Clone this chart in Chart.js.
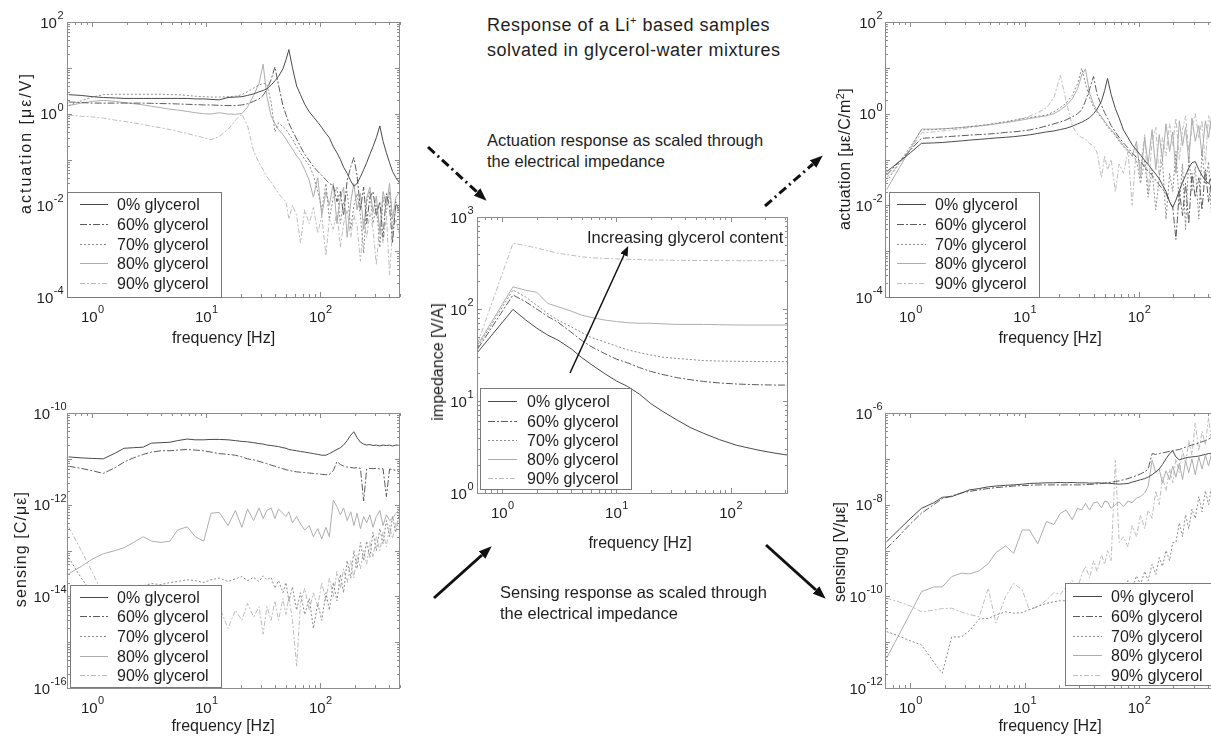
<!DOCTYPE html>
<html>
<head>
<meta charset="utf-8">
<script src="https://cdn.jsdelivr.net/npm/chart.js@4.4.1/dist/chart.umd.min.js"></script>
<style>
  body { margin:0; width:1211px; height:746px; overflow:hidden; background:#fff; position:relative;
         font-family:"Liberation Sans", Arial, sans-serif; color:#1e1e1e; }
  .panel { position:absolute; }
  .txt { position:absolute; white-space:nowrap; font-size:16.5px; line-height:21px; }
  .ytitle { position:absolute; white-space:nowrap; font-size:16px; line-height:16px;
            transform:translate(-50%,-50%) rotate(-90deg); }
  .xtitle { position:absolute; white-space:nowrap; font-size:16px; line-height:16px; width:200px; text-align:center; }
  .sup { font-size:11px; vertical-align:7px; line-height:0; }
</style>
</head>
<body>
<div class="panel" style="left:0px;top:0px"><canvas id="cActRaw" width="410" height="350"></canvas></div>
<div class="panel" style="left:0px;top:390px"><canvas id="cSensRaw" width="410" height="356"></canvas></div>
<div class="panel" style="left:410px;top:180px"><canvas id="cImp" width="390" height="380"></canvas></div>
<div class="panel" style="left:800px;top:0px"><canvas id="cActScaled" width="420" height="350"></canvas></div>
<div class="panel" style="left:800px;top:390px"><canvas id="cSensScaled" width="420" height="356"></canvas></div>

<!-- axis titles -->
<div class="ytitle" style="left:26px;top:142.5px;letter-spacing:2px">actuation [με/V]</div>
<div class="ytitle" style="left:20.5px;top:548.5px;letter-spacing:1.1px">sensing [C/με]</div>
<div class="ytitle" style="left:437.8px;top:361.5px">impedance [V/A]</div>
<div class="ytitle" style="left:844.5px;top:159px;letter-spacing:0.4px">actuation [με/C/m<span class="sup" style="vertical-align:6px">2</span>]</div>
<div class="ytitle" style="left:839.5px;top:551.5px">sensing [V/με]</div>
<div class="xtitle" style="left:123.5px;top:330px">frequency [Hz]</div>
<div class="xtitle" style="left:123px;top:718px">frequency [Hz]</div>
<div class="xtitle" style="left:540px;top:534.5px">frequency [Hz]</div>
<div class="xtitle" style="left:950px;top:330px">frequency [Hz]</div>
<div class="xtitle" style="left:950px;top:718px">frequency [Hz]</div>

<!-- annotations -->
<div class="txt" style="left:487px;top:13px;font-size:18px;line-height:25px;letter-spacing:0.5px">Response of a Li<span class="sup">+</span> based samples<br>solvated in glycerol-water mixtures</div>
<div class="txt" style="left:487px;top:129.5px">Actuation response as scaled through<br>the electrical impedance</div>
<div class="txt" style="left:500px;top:582px">Sensing response as scaled through<br>the electrical impedance</div>
<div class="txt" style="left:587px;top:227px">Increasing glycerol content</div>

<svg width="1211" height="746" style="position:absolute;left:0;top:0;pointer-events:none">
  <defs>
    <marker id="big" markerUnits="userSpaceOnUse" markerWidth="13" markerHeight="10" refX="0" refY="5" orient="auto">
      <path d="M0,0 L13,5 L0,10 z" fill="#111"/>
    </marker>
    <marker id="small" markerUnits="userSpaceOnUse" markerWidth="10" markerHeight="8" refX="0" refY="4" orient="auto">
      <path d="M0,0 L10,4 L0,8 z" fill="#111"/>
    </marker>
  </defs>
  <line x1="428" y1="147" x2="477" y2="192" stroke="#111" stroke-width="3" stroke-dasharray="9 4 2 4" marker-end="url(#big)"/>
  <line x1="765" y1="206" x2="813" y2="164" stroke="#111" stroke-width="3" stroke-dasharray="9 4 2 4" marker-end="url(#big)"/>
  <line x1="434" y1="598" x2="482" y2="555" stroke="#111" stroke-width="3" marker-end="url(#big)"/>
  <line x1="766" y1="545" x2="816" y2="590" stroke="#111" stroke-width="3" marker-end="url(#big)"/>
  <line x1="570" y1="373" x2="624" y2="255" stroke="#111" stroke-width="1.5" marker-end="url(#small)"/>
</svg>

<script>
// frequency grid (Hz) shared by the actuation / sensing panels
const freq = [0.62, 0.8, 1, 1.25, 1.6, 1.9, 2.3, 2.8, 3.3, 4, 4.8, 5.6, 6.8,
  8, 9.5, 11, 13, 15.5, 18, 20.5, 23, 26, 29, 31.5, 34,
  37, 40, 43, 47, 50, 53, 57,
  62, 67, 73, 80, 87, 95, 103, 112, 120, 130,
  140, 150, 160, 172, 185, 197, 210, 225, 240, 255,
  272, 290, 310, 333, 355, 380, 405, 430, 460, 500];

const seriesNames = ['0% glycerol', '60% glycerol', '70% glycerol', '80% glycerol', '90% glycerol'];

// actuation [ue/V], top left
const actRaw0 = [2.6, 2.5, 2.35, 2.25, 2.2, 2.15, 2.15, 2.15, 2.15, 2.15, 2.15, 2.15, 2.15,
  2.1, 2.1, 2.05, 2.0, 2.25, 2.3, 2.35, 2.5, 2.7, 3.0, 3.2, 3.5,
  4.2, 5.2, 6.5, 9.5, 15, 25, 10,
  4.0, 2.6, 1.6, 1.1, 0.85, 0.65, 0.5, 0.37, 0.3, 0.19,
  0.14, 0.1, 0.068, 0.05, 0.034, 0.026, 0.03, 0.042, 0.06, 0.085,
  0.13, 0.19, 0.3, 0.54, 0.25, 0.14, 0.085, 0.055, 0.04, 0.03];
const actRaw60 = [1.8, 1.75, 1.7, 1.7, 1.7, 1.7, 1.7, 1.7, 1.68, 1.66, 1.65, 1.63, 1.6,
  1.58, 1.55, 1.55, 1.52, 1.5, 1.5, 1.55, 1.65, 1.85, 2.1, 2.5, 3.4,
  5.5, 10.5, 4.2, 1.5, 0.95, 0.62, 0.42,
  0.28, 0.19, 0.13, 0.095, 0.07, 0.055, 0.045, 0.036, 0.03, 0.027,
  0.012, 0.02, 0.006, 0.035, 0.07, 0.11, 0.045, 0.008, 0.025, 0.004,
  0.015, 0.02, 0.006, 0.012, 0.002, 0.018, 0.009, 0.0015, 0.012, 0.006];
const actRaw70 = [1.5, 1.9, 2.3, 2.6, 2.65, 2.65, 2.65, 2.65, 2.65, 2.65, 2.6, 2.6, 2.5,
  2.4, 2.35, 2.3, 2.3, 2.35, 2.4, 2.6, 3.0, 3.6, 4.2, 4.6, 4.4,
  1.8, 0.4, 0.63, 0.52, 0.45, 0.36, 0.28,
  0.19, 0.14, 0.1, 0.075, 0.045, 0.02, 0.008, 0.03, 0.005, 0.015,
  0.025, 0.004, 0.012, 0.02, 0.003, 0.01, 0.018, 0.006, 0.0009, 0.012,
  0.02, 0.004, 0.01, 0.0012, 0.015, 0.007, 0.02, 0.003, 0.009, 0.012];
const actRaw80 = [1.5, 1.7, 1.85, 1.95, 1.85, 1.75, 1.65, 1.55, 1.45, 1.35, 1.25, 1.2, 1.12,
  1.05, 1.0, 0.98, 1.05, 0.98, 0.97, 1.0, 1.4, 2.5, 4.5, 12, 2.4,
  0.9, 0.6, 0.45, 0.35, 0.28, 0.22, 0.17,
  0.12, 0.095, 0.06, 0.035, 0.015, 0.04, 0.006, 0.02, 0.01, 0.03,
  0.004, 0.015, 0.025, 0.002, 0.012, 0.03, 0.008, 0.018, 0.003, 0.014,
  0.025, 0.007, 0.016, 0.0025, 0.02, 0.01, 0.03, 0.005, 0.015, 0.02];
const actRaw90 = [0.93, 0.88, 0.85, 0.8, 0.72, 0.68, 0.63, 0.58, 0.53, 0.49, 0.45, 0.41, 0.37,
  0.33, 0.3, 0.27, 0.32, 0.45, 0.72, 0.98, 0.55, 0.15, 0.085, 0.06, 0.042,
  0.032, 0.024, 0.018, 0.014, 0.012, 0.005, 0.01,
  0.006, 0.0015, 0.008, 0.004, 0.009, 0.0025, 0.006, 0.0008, 0.005, 0.003,
  0.007, 0.0012, 0.004, 0.008, 0.002, 0.006, 0.0035, 0.0006, 0.005, 0.002,
  0.007, 0.003, 0.0005, 0.004, 0.0015, 0.006, 0.0003, 0.003, 0.005, 0.002];

// sensing [C/ue], bottom left
const sensRaw0 = [1.1e-11, 1.05e-11, 1.02e-11, 1.0e-11, 1.35e-11, 1.7e-11, 1.75e-11, 1.8e-11, 2.2e-11, 2.25e-11, 2.3e-11, 2.5e-11, 2.7e-11,
  2.6e-11, 2.6e-11, 2.65e-11, 2.65e-11, 2.6e-11, 2.5e-11, 2.4e-11, 2.35e-11, 2.25e-11, 2.15e-11, 2.1e-11, 2.0e-11,
  1.95e-11, 1.9e-11, 1.85e-11, 1.75e-11, 1.7e-11, 1.6e-11, 1.55e-11,
  1.5e-11, 1.45e-11, 1.4e-11, 1.35e-11, 1.3e-11, 1.25e-11, 1.2e-11, 1.2e-11, 1.3e-11, 1.45e-11,
  1.6e-11, 1.75e-11, 2.0e-11, 2.5e-11, 3.3e-11, 3.9e-11, 2.9e-11, 2.3e-11, 2.1e-11, 2.0e-11,
  2.05e-11, 1.95e-11, 2.0e-11, 1.9e-11, 2.0e-11, 1.95e-11, 2.0e-11, 1.9e-11, 2.0e-11, 1.95e-11];
const sensRaw60 = [6.9e-12, 6.2e-12, 5.5e-12, 4.8e-12, 6.5e-12, 8.5e-12, 1.05e-11, 1.25e-11, 1.4e-11, 1.5e-11, 1.5e-11, 1.55e-11, 1.6e-11,
  1.55e-11, 1.5e-11, 1.4e-11, 1.3e-11, 1.25e-11, 1.2e-11, 1.1e-11, 1.0e-11, 9.5e-12, 8.8e-12, 8.3e-12, 7.8e-12,
  7.3e-12, 6.9e-12, 6.5e-12, 6.1e-12, 5.8e-12, 5.6e-12, 5.4e-12,
  5.2e-12, 5.1e-12, 5.0e-12, 4.9e-12, 4.8e-12, 4.7e-12, 4.6e-12, 4.5e-12, 4.6e-12, 5.5e-12,
  8.7e-12, 7.5e-12, 7.0e-12, 6.6e-12, 6.5e-12, 6.3e-12, 6.4e-12, 6.2e-12, 1.2e-12, 6.0e-12,
  6.2e-12, 6.1e-12, 6.2e-12, 6.0e-12, 6.1e-12, 1.5e-12, 6.0e-12, 5.8e-12, 5.6e-12, 5.2e-12];
const sensRaw70 = [7e-14, 2.5e-14, 1.2e-14, 1e-14, 1.2e-14, 1.4e-14, 1.6e-14, 1.7e-14, 1.9e-14, 1.8e-14, 2.0e-14, 2.1e-14, 2.3e-14,
  2.2e-14, 2.0e-14, 2.3e-14, 2.5e-14, 2.1e-14, 2.4e-14, 2.7e-14, 2.2e-14, 2.6e-14, 2.1e-14, 2.8e-14, 2.3e-14,
  2.6e-14, 1.5e-14, 2.2e-14, 1.2e-14, 2.0e-14, 8e-15, 1.6e-14,
  5e-15, 1.2e-14, 4e-15, 9e-15, 2e-15, 7e-15, 3e-15, 1.2e-14, 5e-15, 2e-14,
  8e-15, 3e-14, 1.2e-14, 6e-14, 2.5e-14, 1e-13, 4e-14, 1.5e-13, 6e-14, 1.6e-13,
  7e-14, 2.5e-13, 1e-13, 3e-13, 1.4e-13, 4.5e-13, 2e-13, 5.5e-13, 2.5e-13, 8e-13];
const sensRaw80 = [3.1e-14, 4.5e-14, 6.5e-14, 8.5e-14, 1.0e-13, 1.15e-13, 1.5e-13, 2.0e-13, 1.6e-13, 1.5e-13, 1.6e-13, 2.8e-13, 3.3e-13,
  2.0e-13, 1.6e-13, 6.5e-13, 6.8e-13, 3.5e-13, 7.5e-13, 3.2e-13, 8.0e-13, 4.5e-13, 8.5e-13, 5.0e-13, 7.5e-13,
  8.5e-13, 5.0e-13, 8.0e-13, 6.5e-13, 5.5e-13, 7.0e-13, 4.0e-13,
  5.5e-13, 3.8e-13, 2.8e-13, 3.5e-13, 2.0e-13, 3.0e-13, 1.8e-13, 3.2e-13, 2.0e-13, 1.25e-12,
  9.0e-13, 6.0e-13, 8.5e-13, 4.5e-13, 7.0e-13, 3.5e-13, 6.5e-13, 3.0e-13, 5.5e-13, 4.0e-13,
  6.0e-13, 3.2e-13, 5.5e-13, 7.5e-13, 3.5e-13, 6.0e-13, 4.5e-13, 5.0e-13, 6.5e-13, 8.0e-13];
const sensRaw90 = [3.3e-13, 1e-13, 3.4e-14, 1e-14, 6e-15, 4e-15, 5e-15, 3e-15, 5e-15, 3e-15, 5e-15, 3e-15, 6e-15,
  3e-15, 7e-15, 4e-15, 6e-15, 2e-15, 5e-15, 3e-15, 7e-15, 3.5e-15, 6e-15, 1.5e-15, 6e-15,
  3e-15, 8e-15, 3e-15, 9e-15, 4e-15, 1e-14, 3e-15,
  3e-16, 7e-15, 1.5e-14, 5e-15, 1.2e-14, 6e-15, 2e-14, 8e-15, 2.5e-14, 1e-14,
  3.5e-14, 1.5e-14, 4e-14, 2e-14, 6e-14, 2.5e-14, 8e-14, 4e-14, 1e-13, 5e-14,
  1.5e-13, 7e-14, 2e-13, 1e-13, 2.5e-13, 1.2e-13, 3.5e-13, 1.8e-13, 4e-13, 3e-13];

// impedance [V/A], centre
const impFreq = [0.61, 1.24, 1.6, 2.0, 2.5, 3.06, 4.0, 4.9, 6.0, 7.8, 10, 12.5, 16, 19.9, 25, 34, 45, 58, 80, 113, 150, 181, 250, 318];
const imp0 = [34, 99, 76, 62, 52, 46, 37, 30, 25, 20, 16.5, 14.4, 11.8, 9.4, 7.8, 6.2, 5.1, 4.45, 3.8, 3.3, 3.05, 2.9, 2.7, 2.58];
const imp60 = [37, 142, 120, 100, 83, 72, 56, 46, 39, 33, 28.5, 26, 23, 21, 19.5, 17.9, 17, 16.3, 15.7, 15.3, 15.1, 15, 14.9, 14.9];
const imp70 = [39, 161, 135, 110, 89, 76, 64, 56, 49, 44, 39.5, 36, 33.5, 31.6, 30, 29, 28.2, 27.5, 27.2, 27, 26.9, 26.8, 26.8, 26.8];
const imp80 = [41, 174, 160, 152, 115, 106, 95, 86, 81, 76, 73, 71, 70, 70, 69, 68, 68, 68, 67.5, 67, 67, 67, 67, 67];
const imp90 = [43, 517, 490, 460, 430, 403, 385, 370, 360, 355, 350, 347, 344, 341, 340, 338, 337, 336, 336, 335, 335, 335, 335, 335];

// actuation scaled by impedance [ue/C/m2], top right
const actScaled0 = [0.054, 0.09, 0.14, 0.225, 0.23, 0.235, 0.245, 0.255, 0.265, 0.275, 0.285, 0.295, 0.305,
  0.315, 0.33, 0.345, 0.37, 0.4, 0.42, 0.45, 0.48, 0.53, 0.6, 0.65, 0.72,
  0.82, 1.0, 1.25, 1.9, 3.2, 5.9, 2.6,
  1.3, 0.8, 0.44, 0.3, 0.21, 0.16, 0.125, 0.095, 0.078, 0.06,
  0.048, 0.038, 0.028, 0.02, 0.012, 0.009, 0.013, 0.021, 0.032, 0.045,
  0.065, 0.085, 0.09, 0.06, 0.045, 0.035, 0.03, 0.04, 0.03, 0.035];
const actScaled60 = [0.046, 0.09, 0.16, 0.29, 0.3, 0.31, 0.32, 0.33, 0.34, 0.35, 0.36, 0.37, 0.39,
  0.4, 0.42, 0.44, 0.48, 0.54, 0.6, 0.66, 0.73, 0.85, 1.0, 1.2, 1.9,
  3.5, 6.5, 2.6, 1.5, 1.05, 0.8, 0.55,
  0.4, 0.3, 0.23, 0.18, 0.14, 0.11, 0.09, 0.07, 0.055, 0.045,
  0.035, 0.028, 0.023, 0.018, 0.012, 0.009, 0.0018, 0.02, 0.006, 0.03,
  0.004, 0.05, 0.015, 0.04, 0.008, 0.06, 0.012, 0.035, 0.02, 0.05];
const actScaled70 = [0.033, 0.085, 0.19, 0.44, 0.45, 0.46, 0.48, 0.5, 0.52, 0.55, 0.58, 0.62, 0.67,
  0.72, 0.78, 0.82, 0.88, 0.93, 1.1, 1.35, 1.7, 2.5, 4.5, 9.8, 4.5,
  2.2, 1.4, 1.05, 0.8, 0.65, 0.52, 0.42,
  0.33, 0.25, 0.19, 0.15, 0.12, 0.098, 0.03, 0.1, 0.015, 0.06,
  0.008, 0.04, 0.1, 0.005, 0.05, 0.02, 0.15, 0.01, 0.08, 0.003,
  0.12, 0.02, 0.07, 0.005, 0.15, 0.03, 0.09, 0.006, 0.12, 0.04];
const actScaled80 = [0.022, 0.066, 0.17, 0.46, 0.46, 0.47, 0.48, 0.5, 0.52, 0.54, 0.57, 0.6, 0.64,
  0.68, 0.73, 0.78, 0.84, 0.9, 1.0, 1.2, 1.5, 2.1, 3.5, 7.0, 9.5,
  2.8, 1.6, 1.15, 0.85, 0.68, 0.55, 0.45,
  0.35, 0.27, 0.2, 0.16, 0.12, 0.25, 0.04, 0.3, 0.08, 0.45,
  0.06, 0.35, 0.1, 0.6, 0.15, 0.4, 0.05, 0.7, 0.2, 0.5,
  0.09, 0.8, 0.25, 0.55, 0.12, 0.7, 0.3, 0.9, 0.2, 0.6];
const actScaled90 = [0.04, 0.08, 0.16, 0.38, 0.4, 0.42, 0.44, 0.47, 0.5, 0.53, 0.57, 0.6, 0.65,
  0.7, 0.78, 0.88, 1.05, 1.35, 2.2, 6.9, 1.9, 0.55, 0.35, 0.3, 0.28,
  0.22, 0.2, 0.14, 0.04, 0.12, 0.06, 0.1,
  0.02, 0.08, 0.05, 0.15, 0.01, 0.2, 0.06, 0.35, 0.02, 0.25,
  0.5, 0.04, 0.3, 0.12, 0.6, 0.2, 0.8, 0.1, 0.45, 0.9,
  0.15, 0.5, 1.0, 0.3, 0.7, 0.08, 0.9, 0.4, 1.1, 0.5];

// sensing scaled by impedance [V/ue], bottom right
const sensScaled0 = [1.55e-9, 2.9e-9, 5e-9, 8.3e-9, 1.1e-8, 1.45e-8, 1.5e-8, 1.8e-8, 2.1e-8, 2.25e-8, 2.45e-8, 2.55e-8, 2.65e-8,
  2.7e-8, 2.8e-8, 2.9e-8, 2.95e-8, 3.0e-8, 3.0e-8, 3.05e-8, 3.0e-8, 3.05e-8, 3.0e-8, 3.0e-8, 3.0e-8,
  2.95e-8, 2.95e-8, 3.0e-8, 2.95e-8, 2.95e-8, 2.95e-8, 2.9e-8,
  2.85e-8, 2.8e-8, 2.85e-8, 2.9e-8, 3.1e-8, 3.3e-8, 3.5e-8, 3.7e-8, 4.0e-8, 4.5e-8,
  5.2e-8, 6.0e-8, 7.5e-8, 1.0e-7, 1.3e-7, 1.5e-7, 1.1e-7, 9.5e-8, 1.0e-7, 1.05e-7,
  1.08e-7, 1.1e-7, 1.12e-7, 1.15e-7, 1.2e-7, 1.25e-7, 1.3e-7, 1.33e-7, 1.36e-7, 1.4e-7];
const sensScaled60 = [1.1e-9, 2.1e-9, 3.8e-9, 6.5e-9, 1.0e-8, 1.35e-8, 1.55e-8, 1.8e-8, 1.95e-8, 2.1e-8, 2.25e-8, 2.35e-8, 2.45e-8,
  2.55e-8, 2.6e-8, 2.65e-8, 2.7e-8, 2.7e-8, 2.7e-8, 2.7e-8, 2.7e-8, 2.7e-8, 2.7e-8, 2.7e-8, 2.75e-8,
  2.75e-8, 2.8e-8, 2.85e-8, 2.9e-8, 2.95e-8, 3.0e-8, 3.1e-8,
  3.2e-8, 3.3e-8, 3.5e-8, 3.7e-8, 4.0e-8, 4.3e-8, 4.7e-8, 5.2e-8, 6.0e-8, 1.3e-7,
  1.25e-7, 1.3e-7, 1.35e-7, 1.4e-7, 1.45e-7, 1.5e-7, 1.55e-7, 1.6e-7, 1.7e-7, 1.8e-7,
  1.9e-7, 2.0e-7, 2.1e-7, 2.2e-7, 2.35e-7, 2.5e-7, 2.7e-7, 2.9e-7, 3.2e-7, 3.5e-7];
const sensScaled70 = [1.7e-11, 1.35e-11, 1.07e-11, 8.7e-12, 3.7e-12, 2.1e-12, 1.3e-11, 1.3e-11, 1.8e-11, 3.2e-11, 3.3e-11, 3.9e-11, 4.6e-11,
  4.3e-11, 4.4e-11, 5.2e-11, 6e-11, 7e-11, 7.6e-11, 8e-11, 8e-11, 9e-11, 7e-11, 1e-10, 8e-11,
  1.1e-10, 9e-11, 1.2e-10, 1e-10, 1.3e-10, 8e-11, 1.5e-10,
  1e-10, 1.8e-10, 1.2e-10, 2.2e-10, 1.5e-10, 2.8e-10, 1.8e-10, 3.5e-10, 2.2e-10, 5e-10,
  3e-10, 7e-10, 4.5e-10, 1e-9, 6e-10, 1.5e-9, 1.5e-9, 4e-9, 2e-9, 6e-9,
  3e-9, 8e-9, 5e-9, 1.5e-8, 7e-9, 2e-8, 1e-8, 2.5e-8, 1.5e-8, 3e-8];
const sensScaled80 = [4.5e-12, 1.5e-11, 4.3e-11, 1.26e-10, 1.6e-10, 1.6e-10, 2.7e-10, 3.2e-10, 3.1e-10, 3.6e-10, 5.2e-10, 9e-10, 1.26e-9,
  8.7e-10, 2.8e-9, 2.8e-9, 1.4e-9, 4.3e-9, 3.7e-9, 6.5e-9, 7.6e-9, 4.7e-9, 8.3e-9, 7.6e-9, 1.07e-8,
  7.6e-9, 1.1e-8, 1.15e-8, 8.5e-9, 1.2e-8, 1.15e-8, 8.3e-9,
  1e-8, 1.15e-8, 9e-9, 1.2e-8, 1.1e-8, 1.4e-8, 1.5e-8, 1.8e-8, 2.5e-8, 9.3e-8,
  5e-8, 6e-8, 3e-8, 5.5e-8, 3.5e-8, 7e-8, 4e-8, 8e-8, 3.5e-8, 9e-8,
  5e-8, 1e-7, 4.5e-8, 1.1e-7, 6e-8, 1.2e-7, 7e-8, 1.3e-7, 8e-8, 1.4e-7];
const sensScaled90 = [9.1e-11, 7.5e-11, 6.2e-11, 4.6e-11, 5e-11, 5.4e-11, 5.5e-11, 4.5e-11, 4e-11, 3.6e-11, 1.5e-10, 2.6e-11, 1e-10,
  1.9e-10, 1.4e-10, 5e-11, 6e-11, 8.3e-11, 1.2e-10, 1.1e-10, 1.6e-10, 2.2e-10, 1.5e-10, 3e-10, 4.5e-10,
  2.5e-10, 6e-10, 3.5e-10, 8e-10, 5e-10, 1e-9, 6e-10,
  9.3e-8, 1.5e-9, 2e-9, 1.2e-9, 3.5e-9, 2e-9, 6e-9, 3e-9, 7.6e-9, 5e-9,
  2e-8, 1e-8, 4e-8, 2e-8, 6e-8, 3e-8, 1e-7, 5e-8, 1.5e-7, 8e-8,
  2.5e-7, 1.2e-7, 6e-7, 1.5e-7, 4e-7, 2e-7, 8e-7, 2.5e-7, 4e-7, 3e-7];

// tick values and their power-of-ten exponents (labels read "10" + exponent)
const freqTicks = [1, 10, 100];
const freqTickExp = ['0', '1', '2'];
const actTicks = [1e-4, 1e-2, 1, 1e2];
const actTickExp = ['-4', '-2', '0', '2'];
const sensRawTicks = [1e-16, 1e-14, 1e-12, 1e-10];
const sensRawTickExp = ['-16', '-14', '-12', '-10'];
const impTicks = [1, 10, 100, 1000];
const impTickExp = ['0', '1', '2', '3'];
const sensScaledTicks = [1e-12, 1e-10, 1e-8, 1e-6];
const sensScaledTickExp = ['-12', '-10', '-8', '-6'];

const FONT = '"Liberation Sans", Arial, sans-serif';
const lineColors = ['#4a4a4a', '#5c5c5c', '#8a8a8a', '#adadad', '#bdbdbd'];
const lineDash = [[], [7, 2, 2, 2], [2, 2], [], [5, 2, 2, 2]];

// "10" with a raised exponent, as in the original tick labels
function drawPow(ctx, x, y, exp, align) {
  ctx.font = '15px ' + FONT;
  const wb = ctx.measureText('10').width;
  ctx.font = '11px ' + FONT;
  const we = ctx.measureText(exp).width;
  const x0 = align === 'center' ? x - (wb + we) / 2 : x - (wb + we);
  ctx.font = '15px ' + FONT;
  ctx.fillText('10', x0, y);
  ctx.font = '11px ' + FONT;
  ctx.fillText(exp, x0 + wb + 0.5, y - 8.5);
}

// box frame plus small inward ticks, and the tick labels
const framePlugin = {
  id: 'frame',
  afterDatasetsDraw(chart, args, o) {
    const {ctx, chartArea: a, scales} = chart;
    ctx.save();
    ctx.strokeStyle = '#8c8c8c';
    ctx.lineWidth = 1;
    ctx.strokeRect(Math.round(a.left) + 0.5, Math.round(a.top) + 0.5,
      Math.round(a.right - a.left) - 1, Math.round(a.bottom - a.top));
    ['x', 'y'].forEach(k => {
      const s = scales[k];
      const lo = Math.floor(Math.log10(s.min)), hi = Math.ceil(Math.log10(s.max));
      for (let e = lo; e <= hi; e++) {
        for (let m = 1; m < 10; m++) {
          const v = m * Math.pow(10, e);
          if (v < s.min * 0.999 || v > s.max * 1.001) continue;
          const p = Math.round(s.getPixelForValue(v)) + 0.5;
          const len = m === 1 ? 5 : 3;
          ctx.beginPath();
          if (k === 'x') {
            ctx.moveTo(p, a.bottom); ctx.lineTo(p, a.bottom - len);
            ctx.moveTo(p, a.top); ctx.lineTo(p, a.top + len);
          } else {
            ctx.moveTo(a.left, p); ctx.lineTo(a.left + len, p);
            ctx.moveTo(a.right, p); ctx.lineTo(a.right - len, p);
          }
          ctx.stroke();
        }
      }
    });
    ctx.fillStyle = '#1e1e1e';
    ctx.textBaseline = 'alphabetic';
    ctx.textAlign = 'left';
    scales.x.ticks.forEach((t, i) => {
      drawPow(ctx, scales.x.getPixelForValue(t.value), a.bottom + 24.5, o.xExp[i], 'center');
    });
    scales.y.ticks.forEach((t, i) => {
      drawPow(ctx, a.left - o.yPad, scales.y.getPixelForValue(t.value) + 5.5, o.yExp[i], 'right');
    });
    ctx.restore();
  }
};

// framed legend sitting inside the plot area
const boxLegendPlugin = {
  id: 'boxLegend',
  afterDraw(chart, args, o) {
    const {ctx, chartArea: a} = chart;
    const left = Math.round(o.fromRight ? a.right - o.inset - o.w : a.left + o.inset);
    const top = Math.round(a.bottom - o.lift - o.h);
    ctx.save();
    ctx.fillStyle = '#fff';
    ctx.fillRect(left, top, o.w, o.h);
    ctx.strokeStyle = '#7a7a7a';
    ctx.lineWidth = 1;
    ctx.strokeRect(left + 0.5, top + 0.5, o.w, o.h);
    ctx.font = '16px ' + FONT;
    ctx.textBaseline = 'middle';
    chart.data.datasets.forEach((ds, i) => {
      const y = Math.round(top + o.first + i * o.row) + 0.5;
      ctx.strokeStyle = ds.borderColor;
      ctx.setLineDash(ds.borderDash);
      ctx.beginPath();
      ctx.moveTo(left + o.s0, y);
      ctx.lineTo(left + o.s1, y);
      ctx.stroke();
      ctx.setLineDash([]);
      ctx.fillStyle = '#1e1e1e';
      ctx.fillText(ds.label, left + o.tx, y + 1);
    });
    ctx.restore();
  }
};

function buildPanel(id, cfg) {
  const canvas = document.getElementById(id);
  const W = canvas.width, H = canvas.height, area = cfg.area;
  const datasets = cfg.series.map((vals, i) => ({
    label: seriesNames[i],
    data: cfg.freqs.map((f, j) => ({x: f, y: vals[j]})),
    showLine: true,
    pointRadius: 0,
    borderWidth: 1,
    borderColor: lineColors[i],
    backgroundColor: lineColors[i],
    borderDash: lineDash[i]
  }));
  const noPad = s => { s.paddingLeft = 0; s.paddingRight = 0; s.paddingTop = 0; s.paddingBottom = 0; };
  return new Chart(canvas, {
    type: 'scatter',
    data: {datasets},
    plugins: [framePlugin, boxLegendPlugin],
    options: {
      responsive: false,
      animation: false,
      events: [],
      layout: {padding: {left: 0, top: area.t, right: W - area.r, bottom: 0}},
      plugins: {
        legend: {display: false},
        tooltip: {enabled: false},
        frame: {xExp: freqTickExp, yExp: cfg.yTickExp, yPad: cfg.yPad},
        boxLegend: cfg.legend
      },
      scales: {
        x: {
          type: 'logarithmic', min: cfg.xMin, max: cfg.xMax,
          grid: {display: false, drawTicks: false},
          border: {display: false},
          afterBuildTicks: s => { s.ticks = freqTicks.map(v => ({value: v})); },
          afterFit: s => { s.height = H - area.b; noPad(s); },
          ticks: {display: false, autoSkip: false}
        },
        y: {
          type: 'logarithmic', min: cfg.yMin, max: cfg.yMax,
          grid: {display: false, drawTicks: false},
          border: {display: false},
          afterBuildTicks: s => { s.ticks = cfg.yTicks.map(v => ({value: v})); },
          afterFit: s => { s.width = area.l; noPad(s); },
          ticks: {display: false, autoSkip: false}
        }
      }
    }
  });
}

buildPanel('cActRaw', {
  area: {l: 67, t: 22, r: 400, b: 297}, freqs: freq, xMin: 0.62, xMax: 500,
  yMin: 1e-4, yMax: 1e2, yTicks: actTicks, yTickExp: actTickExp, yPad: 4,
  series: [actRaw0, actRaw60, actRaw70, actRaw80, actRaw90],
  legend: {inset: 0, lift: 0, w: 154, h: 105, first: 12, row: 19.8, s0: 13, s1: 41, tx: 50}
});
buildPanel('cSensRaw', {
  area: {l: 67, t: 23, r: 400, b: 298}, freqs: freq, xMin: 0.62, xMax: 500,
  yMin: 1e-16, yMax: 1e-10, yTicks: sensRawTicks, yTickExp: sensRawTickExp, yPad: 1,
  series: [sensRaw0, sensRaw60, sensRaw70, sensRaw80, sensRaw90],
  legend: {inset: 3, lift: 1, w: 151, h: 102, first: 11.7, row: 19.6, s0: 10, s1: 38, tx: 47}
});
buildPanel('cImp', {
  area: {l: 67, t: 37, r: 378, b: 313}, freqs: impFreq, xMin: 0.61, xMax: 318,
  yMin: 1, yMax: 1e3, yTicks: impTicks, yTickExp: impTickExp, yPad: 4,
  series: [imp0, imp60, imp70, imp80, imp90],
  legend: {inset: 3, lift: 4, w: 151, h: 101, first: 13.4, row: 19.2, s0: 8, s1: 37, tx: 47}
});
buildPanel('cActScaled', {
  area: {l: 85, t: 22, r: 419, b: 297}, freqs: freq, xMin: 0.6, xMax: 500,
  yMin: 1e-4, yMax: 1e2, yTicks: actTicks, yTickExp: actTickExp, yPad: 3,
  series: [actScaled0, actScaled60, actScaled70, actScaled80, actScaled90],
  legend: {inset: 4, lift: 0, w: 150, h: 105, first: 12.3, row: 19.7, s0: 8, s1: 37, tx: 46}
});
buildPanel('cSensScaled', {
  area: {l: 85, t: 23, r: 419, b: 298}, freqs: freq, xMin: 0.6, xMax: 500,
  yMin: 1e-12, yMax: 1e-6, yTicks: sensScaledTicks, yTickExp: sensScaledTickExp, yPad: 3,
  series: [sensScaled0, sensScaled60, sensScaled70, sensScaled80, sensScaled90],
  legend: {fromRight: true, inset: 4, lift: 3, w: 150, h: 102, first: 13.3, row: 19.6, s0: 8, s1: 37, tx: 46}
});
</script>
</body>
</html>
